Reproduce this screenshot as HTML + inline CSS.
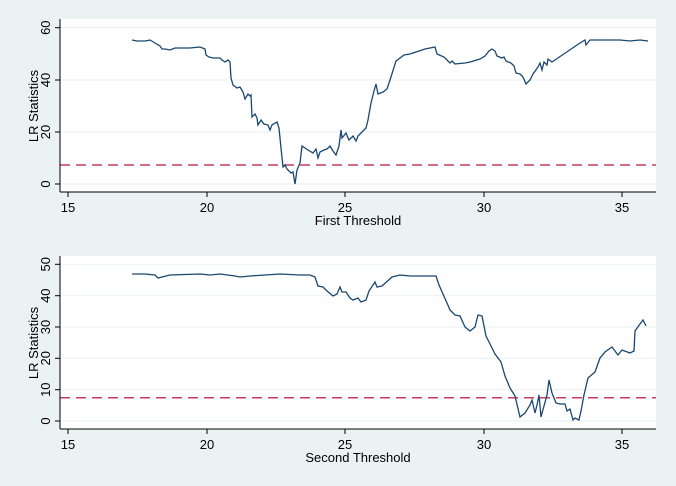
<!DOCTYPE html>
<html><head><style>
html,body{margin:0;padding:0;background:#eaf2f3;}
svg{display:block;font-family:"Liberation Sans",Arial,sans-serif;}
</style></head><body>
<svg width="676" height="486" viewBox="0 0 676 486">
<rect width="676" height="486" fill="#eaf2f3"/>
<!-- TOP -->
<rect x="60" y="19" width="596" height="173" fill="#fff"/>
<g stroke="#eaf2f3" stroke-width="1.2">
<line x1="60" x2="656" y1="184" y2="184"/><line x1="60" x2="656" y1="132" y2="132"/>
<line x1="60" x2="656" y1="80" y2="80"/><line x1="60" x2="656" y1="27.7" y2="27.7"/>
</g>
<line x1="60" x2="656" y1="165" y2="165" stroke="#c83d5d" stroke-width="1.5" stroke-dasharray="10,6"/>
<polyline fill="none" stroke="#1a476f" stroke-width="1.3" points="132,40 137,41 145,41 150,40 155,43 160,46 162,49 165,49 170,50 175,48 180,48 190,48 200,47 205,49 206,55 209,57 213,58 220,58 222,60 225,62 228,60 230,62 231,78 233,85 237,88 240,87 243,92 245,99 248,94 250,96 251,95 252,117 255,114 257,118 258,125 261,120 264,124 268,125 270,130 272,125 277,122 279,128 281,148 283,167 285,165 287,169 291,173 293,172 295,184 297,170 300,163 302,146 305,148 308,150 313,153 316,149 318,158 320,152 324,150 327,149 330,146 333,151 336,155 339,146 341,130 342,138 346,133 349,140 353,136 356,141 358,136 366,128 368,120 371,103 374,91 376,84 378,94 383,92 387,89 390,80 396,61 404,55 410,54 416,52 425,49 435,47 437,54 444,57 450,63 452,61 455,64 465,63 470,62 480,59 485,56 489,51 492,49 495,51 497,56 502,58 504,57 506,61 511,63 514,66 516,73 520,74 523,77 526,84 530,80 533,74 538,67 540,63 542,70 544,62 547,65 548,59 552,62 580,43 585,40 586,45 590,40 600,40 620,40 630,41 640,40 648,41"/>
<g stroke="#000" stroke-width="1">
<line x1="60" y1="19" x2="60" y2="192"/><line x1="60" y1="192" x2="656" y2="192"/>
<line x1="55" x2="60" y1="184" y2="184"/><line x1="55" x2="60" y1="132" y2="132"/><line x1="55" x2="60" y1="80" y2="80"/><line x1="55" x2="60" y1="27.7" y2="27.7"/>
<line x1="68" x2="68" y1="192" y2="197"/><line x1="207" x2="207" y1="192" y2="197"/><line x1="345" x2="345" y1="192" y2="197"/><line x1="484" x2="484" y1="192" y2="197"/><line x1="622" x2="622" y1="192" y2="197"/>
</g>
<g font-size="13" fill="#000" text-anchor="middle">
<text transform="translate(50,184) rotate(-90)">0</text>
<text transform="translate(50,132) rotate(-90)">20</text>
<text transform="translate(50,80) rotate(-90)">40</text>
<text transform="translate(50,27.7) rotate(-90)">60</text>
<text transform="translate(38,106) rotate(-90)">LR Statistics</text>
<text x="68" y="212">15</text><text x="207" y="212">20</text><text x="345" y="212">25</text><text x="484" y="212">30</text><text x="622" y="212">35</text>
<text x="358" y="225">First Threshold</text>
</g>
<!-- BOTTOM -->
<rect x="60" y="256" width="596" height="173" fill="#fff"/>
<g stroke="#eaf2f3" stroke-width="1.2">
<line x1="60" x2="656" y1="421" y2="421"/><line x1="60" x2="656" y1="389.7" y2="389.7"/><line x1="60" x2="656" y1="358.3" y2="358.3"/>
<line x1="60" x2="656" y1="327" y2="327"/><line x1="60" x2="656" y1="295.7" y2="295.7"/><line x1="60" x2="656" y1="264.3" y2="264.3"/>
</g>
<line x1="60" x2="656" y1="397.7" y2="397.7" stroke="#c83d5d" stroke-width="1.5" stroke-dasharray="10,6"/>
<polyline fill="none" stroke="#1a476f" stroke-width="1.3" points="132,274 145,274 155,275 158,278 162,277 170,275 200,274 210,275 220,274 235,276 240,277 250,276 265,275 280,274 300,275 310,275 315,277 318,286 323,287 327,291 333,296 337,294 340,287 342,292 346,292 350,298 353,300 358,298 361,302 366,300 369,291 375,282 377,287 382,286 392,277 400,275 410,276 425,276 436,276 439,285 447,303 450,310 455,315 460,316 465,327 470,331 475,327 478,315 482,316 486,336 490,344 495,354 501,362 505,376 510,388 515,396 520,417 525,413 530,405 532,400 535,413 537,405 539,395 541,417 547,395 549,380 552,393 556,403 560,404 565,404 567,411 570,409 573,420 575,418 579,420 581,411 584,395 588,378 595,372 600,358 605,352 612,347 618,355 622,350 630,353 634,351 635,331 640,324 643,320 646,326"/>
<g stroke="#000" stroke-width="1">
<line x1="60" y1="256" x2="60" y2="429"/><line x1="60" y1="429" x2="656" y2="429"/>
<line x1="55" x2="60" y1="421" y2="421"/><line x1="55" x2="60" y1="389.7" y2="389.7"/><line x1="55" x2="60" y1="358.3" y2="358.3"/><line x1="55" x2="60" y1="327" y2="327"/><line x1="55" x2="60" y1="295.7" y2="295.7"/><line x1="55" x2="60" y1="264.3" y2="264.3"/>
<line x1="68" x2="68" y1="429" y2="434"/><line x1="207" x2="207" y1="429" y2="434"/><line x1="345" x2="345" y1="429" y2="434"/><line x1="484" x2="484" y1="429" y2="434"/><line x1="622" x2="622" y1="429" y2="434"/>
</g>
<g font-size="13" fill="#000" text-anchor="middle">
<text transform="translate(50,421) rotate(-90)">0</text>
<text transform="translate(50,389.7) rotate(-90)">10</text>
<text transform="translate(50,358.3) rotate(-90)">20</text>
<text transform="translate(50,327) rotate(-90)">30</text>
<text transform="translate(50,295.7) rotate(-90)">40</text>
<text transform="translate(50,264.3) rotate(-90)">50</text>
<text transform="translate(38,343) rotate(-90)">LR Statistics</text>
<text x="68" y="449">15</text><text x="207" y="449">20</text><text x="345" y="449">25</text><text x="484" y="449">30</text><text x="622" y="449">35</text>
<text x="358" y="462">Second Threshold</text>
</g>
</svg>
</body></html>
